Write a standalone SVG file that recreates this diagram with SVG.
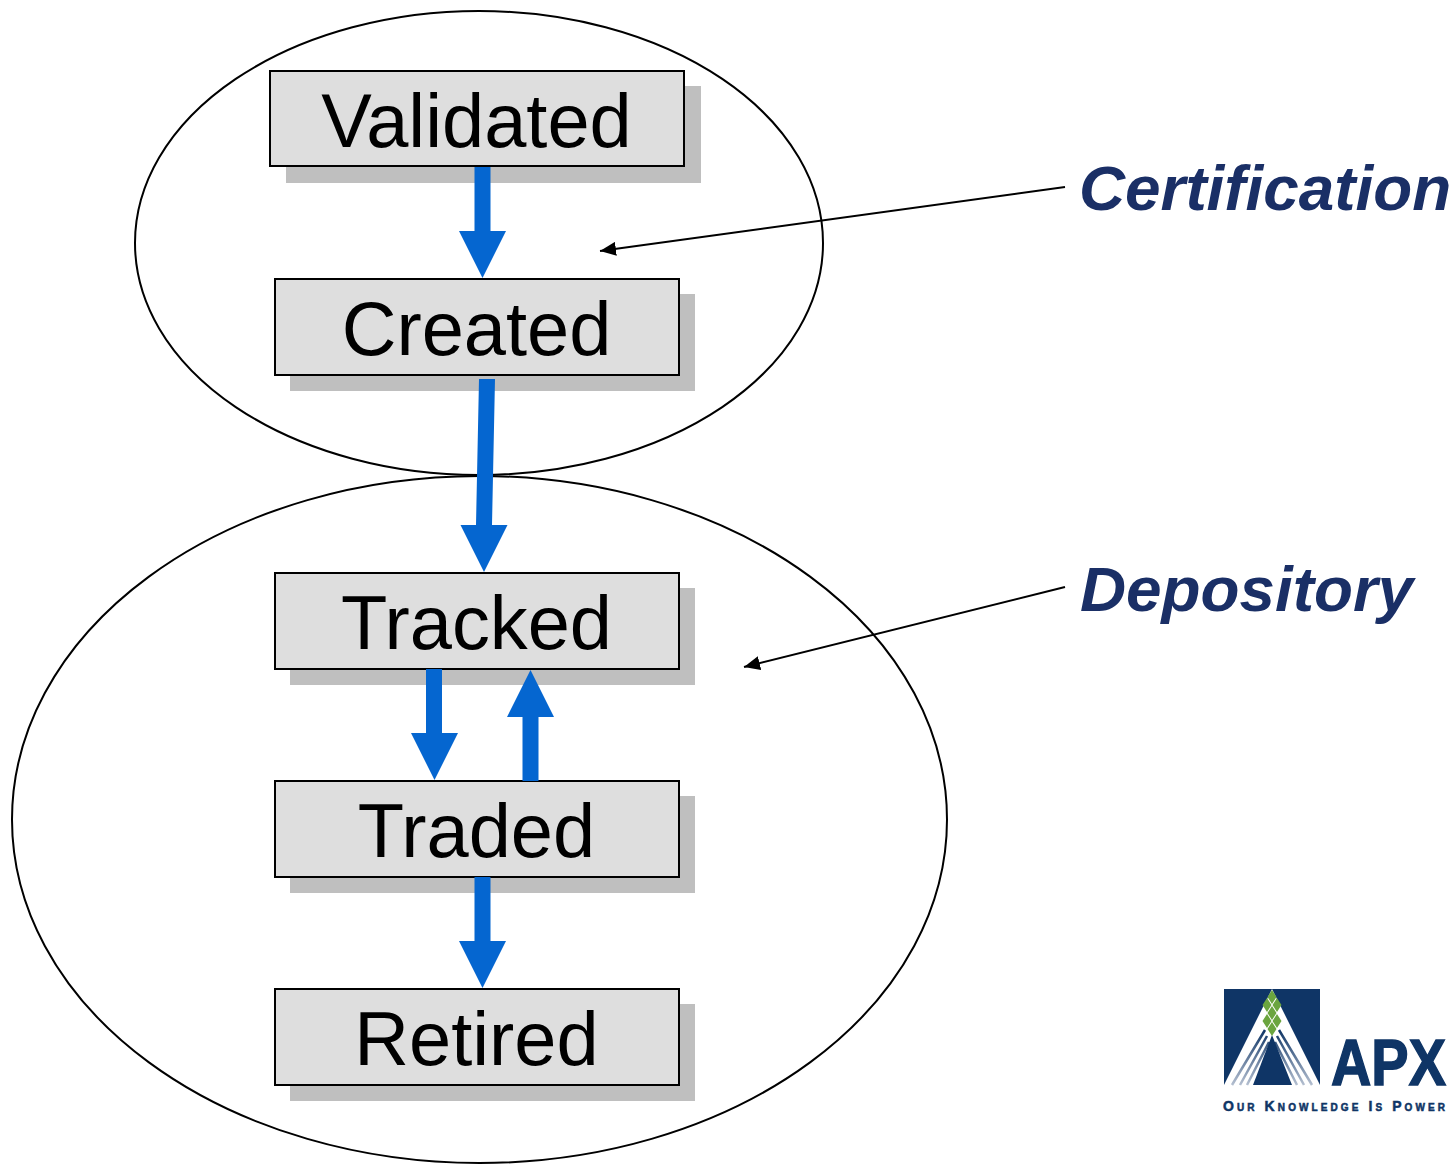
<svg xmlns="http://www.w3.org/2000/svg" width="1456" height="1164" viewBox="0 0 1456 1164">
<style>
.ell{fill:none;stroke:#000;stroke-width:2}
.shadow{fill:#bfbfbf}
.box{fill:#dedede;stroke:#000;stroke-width:2}
.lbl{font-family:"Liberation Sans",Arial,sans-serif;font-size:75.8px;fill:#000;text-anchor:middle}
.call{font-family:"Liberation Sans",Arial,sans-serif;font-size:63.8px;font-weight:bold;font-style:italic;fill:#1a2f66}
.flow{fill:#0566d0}
.thin{fill:none;stroke:#000;stroke-width:2;marker-end:url(#tip)}
.navy{fill:#0f3566}
.leaf{fill:#6ba53f}
</style>
<defs>
<marker id="tip" markerUnits="userSpaceOnUse" markerWidth="18" markerHeight="14" refX="16" refY="7" orient="auto"><path d="M0 0L16 7L0 14Z" fill="#000"/></marker>
<linearGradient id="fade" gradientUnits="userSpaceOnUse" x1="0" y1="1030" x2="0" y2="1085"><stop offset="0" stop-color="#0f3566"/><stop offset="1" stop-color="#b4bfd0"/></linearGradient>
</defs>
<g id="certification-ellipse"><ellipse class="ell" cx="479" cy="243" rx="344" ry="232"/></g>
<g id="depository-ellipse"><ellipse class="ell" cx="479.5" cy="819.5" rx="467.5" ry="343.5"/></g>
<g id="validated"><rect class="shadow" x="286" y="86" width="415" height="97"/><rect class="box" x="270" y="71" width="414" height="95"/><text class="lbl" x="476.500" y="147">Validated</text></g>
<g id="created"><rect class="shadow" x="290" y="294" width="405" height="97"/><rect class="box" x="275" y="279" width="404" height="96"/><text class="lbl" x="476.500" y="355">Created</text></g>
<g id="tracked"><rect class="shadow" x="290" y="588" width="405" height="97"/><rect class="box" x="275" y="573" width="404" height="96"/><text class="lbl" x="476.500" y="649">Tracked</text></g>
<g id="traded"><rect class="shadow" x="290" y="796" width="405" height="97"/><rect class="box" x="275" y="781" width="404" height="96"/><text class="lbl" x="476.500" y="857">Traded</text></g>
<g id="retired"><rect class="shadow" x="290" y="1004" width="405" height="97"/><rect class="box" x="275" y="989" width="404" height="96"/><text class="lbl" x="476.500" y="1065">Retired</text></g>
<g id="connectors">
<polygon class="flow" points="474.500,167 490.500,167 490.500,231 506,231 482.500,278 459,231 474.500,231"/>
<polygon class="flow" points="479,379 495,379 492,525 507.500,525 484,572 460.500,525 476,525"/>
<polygon class="flow" points="426,669 442,669 442,733 458,733 434.500,780 411,733 426,733"/>
<polygon class="flow" points="522.500,781 538.500,781 538.500,717 554,717 530.500,670 507,717 522.500,717"/>
<polygon class="flow" points="474.500,877 490.500,877 490.500,941 506,941 482.500,988 459,941 474.500,941"/>
<path class="thin" d="M1065 187L600 251"/>
<path class="thin" d="M1065 587L744 667"/>
</g>
<g id="certification-label"><text class="call" x="1079" y="210">Certification</text></g>
<g id="depository-label"><text class="call" x="1080" y="611">Depository</text></g>
<g id="apx-logo">
<rect class="navy" x="1224" y="989" width="96" height="96"/>
<path d="M1272 989L1224 1085H1320Z" fill="#fff"/>
<path d="M1265 1030L1232 1085M1267 1036L1240 1085M1269 1042L1247 1085M1279 1030L1312 1085M1277 1036L1304 1085M1275 1042L1297 1085" stroke="url(#fade)" stroke-width="2.500" fill="none"/>
<path class="navy" d="M1272 1035L1292 1085H1253Z"/>
<path class="leaf" d="M1272 990l4.500 7-4.500 7-4.500-7zM1267 998l4.500 7-4.500 7-4.500-7zM1277 998l4.500 7-4.500 7-4.500-7zM1272 1006l4.500 7-4.500 7-4.500-7zM1267 1014l4.500 7-4.500 7-4.500-7zM1277 1014l4.500 7-4.500 7-4.500-7zM1272 1022l4.500 7-4.500 7-4.500-7z"/>
<text transform="translate(1331 1085) scale(.86 1)" x="0" y="0" font-family="'Liberation Sans',Arial,sans-serif" font-weight="bold" font-size="65" fill="#0f3566" stroke="#0f3566" stroke-width="1.500">APX</text>
<text x="1223" y="1111" font-family="'Liberation Sans',Arial,sans-serif" font-weight="bold" font-size="14" style="font-variant:small-caps" fill="#0f3566" stroke="#0f3566" stroke-width=".5" textLength="222" lengthAdjust="spacing">Our Knowledge Is Power</text>
</g>
</svg>
